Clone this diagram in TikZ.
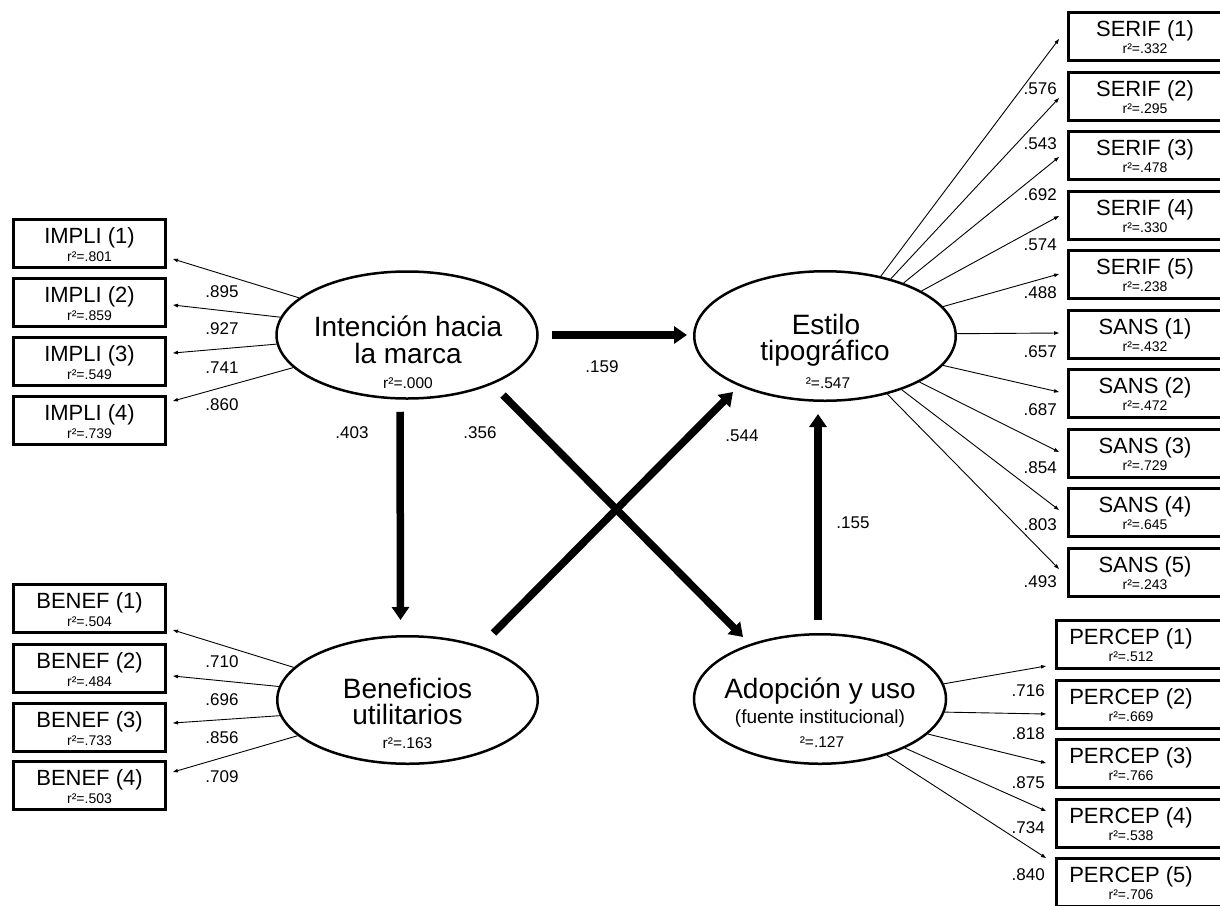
\documentclass[tikz,border=0pt]{standalone}
\usepackage{fontspec}
\setmainfont{Liberation Sans}
\usetikzlibrary{arrows.meta,calc,shapes.geometric}
\newcommand\fLat{\fontsize{28}{28}\selectfont}
\newcommand\fLatB{\fontsize{28}{28}\selectfont}
\newcommand\fSub{\fontsize{19}{19}\selectfont}
\newcommand\fBox{\fontsize{22}{22}\selectfont}
\newcommand\fRb{\fontsize{14}{14}\selectfont}
\newcommand\fRe{\fontsize{15.5}{16}\selectfont}
\newcommand\fLbl{\fontsize{17}{17}\selectfont}
\begin{document}
\begin{tikzpicture}[x=1pt,y=-1pt,
  lat/.style={ellipse,draw,line width=2.5pt,inner sep=0pt},
  obs/.style={rectangle,draw,line width=3pt,inner sep=0pt,minimum height=48pt},
  txt/.style={anchor=base,inner sep=0pt},
  lbl/.style={anchor=base,inner sep=0pt,font=\fLbl},
  lblr/.style={anchor=base east,inner sep=0pt,font=\fLbl},
  thinarr/.style={line width=0.9pt,-{Triangle[length=5pt,width=3.5pt]}},
  bigarr/.style={line width=7.5pt,-{Triangle[length=13pt,width=17pt]}}]
\path[use as bounding box] (0,0) rectangle (1220,905);
\clip (0,0) rectangle (1220,905);

% latent variables
\node[lat,minimum width=261pt,minimum height=127pt] (int) at (407,335) {};
\node[lat,minimum width=261.5pt,minimum height=129.5pt] (est) at (825,336) {};
\node[lat,minimum width=260.5pt,minimum height=127.5pt] (ben) at (407.5,700) {};
\node[lat,minimum width=252pt,minimum height=129.5pt] (adop) at (820,699) {};

\node[txt,font=\fLat] (intA) at ($(int.center)+(1,1)$) {Intención hacia};
\node[txt,font=\fLat] (intB) at ($(int.center)+(1,28)$) {la marca};
\node[txt,font=\fRe] (intC) at ($(int.center)+(1,53)$) {r²=.000};

\node[txt,font=\fLat] (estA) at ($(est.center)+(1,-2)$) {Estilo};
\node[txt,font=\fLat] (estB) at ($(est.center)+(0,24)$) {tipográfico};
\node[txt,font=\fRe] (estC) at ($(est.center)+(3,52)$) {²=.547};

\node[txt,font=\fLat] (benA) at ($(ben.center)+(0,-2)$) {Beneficios};
\node[txt,font=\fLat] (benB) at ($(ben.center)+(0,24)$) {utilitarios};
\node[txt,font=\fRe] (benC) at ($(ben.center)+(0,48)$) {r²=.163};

\node[txt,font=\fLatB] (adA) at ($(adop.center)+(0,-1)$) {Adopción y uso};
\node[txt,font=\fSub] (adB) at ($(adop.center)+(0,24)$) {(fuente institucional)};
\node[txt,font=\fRe] (adC) at ($(adop.center)+(2,48)$) {²=.127};

% observed: left
\foreach \i/\y/\r in {1/243.5/801,2/302.5/859,3/361.5/549,4/420.5/739}{
  \node[obs,minimum width=152pt] (im\i) at (89.5,\y) {};
  \node[txt,font=\fBox] at ($(im\i.center)+(0,0)$) {IMPLI (\i)};
  \node[txt,font=\fRb] at ($(im\i.center)+(0,18)$) {r²=.\r};
}
\foreach \i/\y/\r in {1/608.5/504,2/668.5/484,3/727.5/733,4/785.5/503}{
  \node[obs,minimum width=152pt] (bf\i) at (89.5,\y) {};
  \node[txt,font=\fBox] at ($(bf\i.center)+(0,0)$) {BENEF (\i)};
  \node[txt,font=\fRb] at ($(bf\i.center)+(0,18)$) {r²=.\r};
}
% observed: right
\foreach \i/\y/\r in {1/36.5/332,2/96/295,3/155.5/478,4/215/330,5/274.5/238}{
  \node[obs,minimum width=170pt] (se\i) at (1153.5,\y) {};
  \node[txt,font=\fBox] at (1145,\y) {SERIF (\i)};
  \node[txt,font=\fRb] at ($(1145,\y)+(0,17)$) {r²=.\r};
}
\foreach \i/\y/\r in {1/334/432,2/393.5/472,3/453/729,4/512.5/645,5/572/243}{
  \node[obs,minimum width=170pt] (sa\i) at (1153.5,\y) {};
  \node[txt,font=\fBox] at (1145,\y) {SANS (\i)};
  \node[txt,font=\fRb] at ($(1145,\y)+(0,17)$) {r²=.\r};
}
\foreach \i/\y/\r in {1/644.5/512,2/704/669,3/763.5/766,4/823/538,5/882.5/706}{
  \node[obs,minimum width=180pt] (pe\i) at (1146.5,\y) {};
  \node[txt,font=\fBox] at (1131,\y) {PERCEP (\i)};
  \node[txt,font=\fRb] at ($(1131,\y)+(0,17)$) {r²=.\r};
}

% thin loadings
\draw[thinarr] (int.161) -- ($(im1.east)+(6,15.5)$);
\draw[thinarr] (int.172) -- ($(im2.east)+(6,2.5)$);
\draw[thinarr] (int.184) -- ($(im3.east)+(6,-8.5)$);
\draw[thinarr] (int.196) -- ($(im4.east)+(6,-19.5)$);

\draw[thinarr] (ben.164) -- ($(bf1.east)+(6,21.5)$);
\draw[thinarr] (ben.174) -- ($(bf2.east)+(6,7.5)$);
\draw[thinarr] (ben.187) -- ($(bf3.east)+(6,-4.5)$);
\draw[thinarr] (ben.198) -- ($(bf4.east)+(6,-13.5)$);

\draw[thinarr] (est.47) -- ($(se1.west)+(-8,2.5)$);
\draw[thinarr] (est.41) -- ($(se2.west)+(-8,2)$);
\draw[thinarr] (est.34) -- ($(se3.west)+(-8,1.5)$);
\draw[thinarr] (est.25) -- ($(se4.west)+(-8,1)$);
\draw[thinarr] (est.14) -- ($(se5.west)+(-8,-0.5)$);
\draw[thinarr] (est.1) -- ($(sa1.west)+(-8,-1)$);
\draw[thinarr] (est.346) -- ($(sa2.west)+(-8,-1.5)$);
\draw[thinarr] (est.334) -- ($(sa3.west)+(-8,-1)$);
\draw[thinarr] (est.325) -- ($(sa4.west)+(-8,-2.5)$);
\draw[thinarr] (est.317) -- ($(sa5.west)+(-8,-3)$);

\draw[thinarr] (adop.7) -- ($(pe1.west)+(-9,21.5)$);
\draw[thinarr] (adop.354) -- ($(pe2.west)+(-9,10)$);
\draw[thinarr] (adop.342) -- ($(pe3.west)+(-9,-0.5)$);
\draw[thinarr] (adop.330) -- ($(pe4.west)+(-9,-12)$);
\draw[thinarr] (adop.320) -- ($(pe5.west)+(-9,-24.5)$);

% structural paths
\draw[bigarr] ($(int.south)+(-7,12)$) -- ($(ben.north)+(-7,-15)$);
\draw[bigarr] ($(int.east)+(13,0)$) -- ($(est.west)+(-6,-1)$);
\draw[bigarr] ($(int.center)+(96,60)$) -- ($(adop.center)+(-77,-62)$);
\draw[bigarr] ($(ben.center)+(86,-67)$) -- ($(est.center)+(-92,56)$);
\draw[bigarr] ($(adop.north)+(-2,-13)$) -- ($(est.south)+(-7,12)$);

% labels
\node[lbl] at (602,372) {.159};
\node[lbl] at (352,438) {.403};
\node[lbl] at (480,438) {.356};
\node[lbl] at (742,441) {.544};
\node[lbl] at (853,528) {.155};

\node[lbl] at (222,297) {.895};
\node[lbl] at (222,334) {.927};
\node[lbl] at (222,373) {.741};
\node[lbl] at (222,410) {.860};

\node[lbl] at (222,667) {.710};
\node[lbl] at (222,705) {.696};
\node[lbl] at (222,743) {.856};
\node[lbl] at (222,782) {.709};

\node[lblr] at (1057,94) {.576};
\node[lblr] at (1057,149) {.543};
\node[lblr] at (1057,200) {.692};
\node[lblr] at (1057,250) {.574};
\node[lblr] at (1057,298) {.488};
\node[lblr] at (1057,357) {.657};
\node[lblr] at (1057,415) {.687};
\node[lblr] at (1057,473) {.854};
\node[lblr] at (1057,530) {.803};
\node[lblr] at (1057,587) {.493};

\node[lblr] at (1045,696) {.716};
\node[lblr] at (1045,739) {.818};
\node[lblr] at (1045,788) {.875};
\node[lblr] at (1045,833) {.734};
\node[lblr] at (1045,880) {.840};
\end{tikzpicture}
\end{document}
